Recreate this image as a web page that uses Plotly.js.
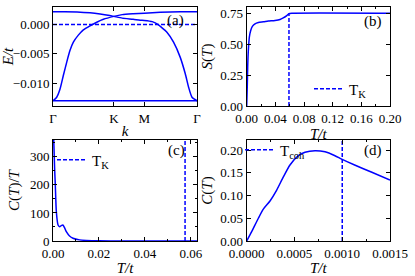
<!DOCTYPE html>
<html>
<head>
<meta charset="utf-8">
<script src="https://cdn.plot.ly/plotly-3.0.1.min.js"></script>
<style>html,body{margin:0;padding:0;background:#fff;}#chart{width:415px;height:276px;}</style>
</head>
<body>
<div id="chart"></div>
<script>
// ---------- Panel (a): band structure ----------
const kTickVals = [0, 1.3333, 2.0, 3.1547];
const kTickText = ['Γ', 'K', 'M', 'Γ'];
const kFlat = [0, 3.1547];
const eFlat = [-0.0130, -0.0130];
const kBandA = [0, 0.081, 0.154, 0.226, 0.301, 0.373, 0.446, 0.555, 0.665, 0.812, 0.959, 1.104, 1.333, 1.515, 1.756, 2.0, 2.349, 2.788, 3.155];
const eBandA = [-0.0130, -0.0124, -0.0110, -0.0087, -0.0064, -0.0044, -0.0030, -0.0018, -0.0009, -0.0002, 0.0004, 0.0009, 0.0014, 0.0017, 0.00185, 0.00195, 0.0021, 0.0022, 0.0022];
const kBandB = [0, 0.263, 0.527, 0.812, 1.032, 1.207, 1.333, 1.515, 1.756, 1.910, 2.0, 2.174, 2.305, 2.349, 2.496, 2.641, 2.788, 2.898, 2.971, 3.045, 3.155];
const eBandB = [0.0022, 0.0022, 0.00215, 0.0020, 0.0018, 0.0016, 0.0014, 0.0011, 0.0009, 0.00075, 0.0007, 0.0005, 0.0000, -0.0003, -0.0013, -0.0030, -0.0056, -0.0084, -0.0107, -0.0124, -0.0130];
const eFermi = [0, 0];

// ---------- Panel (b): entropy ----------
const tS = [0, 0.0009, 0.0014, 0.0023, 0.0037, 0.0056, 0.0079, 0.0116, 0.0163, 0.0233, 0.030, 0.0395, 0.0465, 0.051, 0.056, 0.059, 0.063, 0.2];
const sT = [0, 0.18, 0.32, 0.45, 0.557, 0.61, 0.643, 0.664, 0.675, 0.680, 0.686, 0.691, 0.699, 0.712, 0.731, 0.747, 0.75, 0.75];
const tkB = [0.059, 0.059];
const tkBy = [0, 0.75];

// ---------- Panel (c): C(T)/T ----------
const tC = [0.0003, 0.0004, 0.0007, 0.001, 0.00145, 0.0022, 0.0029, 0.0036, 0.0043, 0.005, 0.0058, 0.0072, 0.0087, 0.0116, 0.0145, 0.02, 0.03, 0.045, 0.063];
const cOverT = [365, 340, 260, 200, 105, 57, 51, 55, 57, 48, 33, 18, 10, 4, 2, 0.5, 0.2, 0.2, 0.2];
const tkC = [0.0575, 0.0575];
const tkCy = [0, 360];

// ---------- Panel (d): C(T) ----------
const tD = [0, 0.000052, 0.000122, 0.000174, 0.000244, 0.000314, 0.000384, 0.000453, 0.000541, 0.00061, 0.000715, 0.00082, 0.000924, 0.000994, 0.00113, 0.00131, 0.0015];
const cT = [0, 0.0205, 0.05, 0.070, 0.088, 0.112, 0.141, 0.167, 0.1875, 0.195, 0.1985, 0.196, 0.1875, 0.180, 0.167, 0.151, 0.134];
const tCoh = [0.0010, 0.0010];
const tCohY = [0, 0.222];

const BLUE = '#0000ff';
const FONT = '"Liberation Serif", "Times New Roman", Times, serif';
const solid = {color: BLUE, width: 1.5, shape: 'spline', smoothing: 0.6};
const dashed = {color: BLUE, width: 1.5, dash: '4px,2px'};

const traces = [
  {x: kFlat, y: eFlat, xaxis: 'x', yaxis: 'y', mode: 'lines', line: {color: BLUE, width: 1.5}, showlegend: false},
  {x: kBandA, y: eBandA, xaxis: 'x', yaxis: 'y', mode: 'lines', line: solid, showlegend: false},
  {x: kBandB, y: eBandB, xaxis: 'x', yaxis: 'y', mode: 'lines', line: solid, showlegend: false},
  {x: kFlat, y: eFermi, xaxis: 'x', yaxis: 'y', mode: 'lines', line: dashed, showlegend: false},

  {x: tS, y: sT, xaxis: 'x2', yaxis: 'y2', mode: 'lines', line: solid, showlegend: false},
  {x: tkB, y: tkBy, xaxis: 'x2', yaxis: 'y2', mode: 'lines', line: dashed, name: 'T<sub>K</sub>', legend: 'legend'},

  {x: tC, y: cOverT, xaxis: 'x3', yaxis: 'y3', mode: 'lines', line: solid, showlegend: false},
  {x: tkC, y: tkCy, xaxis: 'x3', yaxis: 'y3', mode: 'lines', line: dashed, name: 'T<sub>K</sub>', legend: 'legend2'},

  {x: tD, y: cT, xaxis: 'x4', yaxis: 'y4', mode: 'lines', line: solid, showlegend: false},
  {x: tCoh, y: tCohY, xaxis: 'x4', yaxis: 'y4', mode: 'lines', line: dashed, name: 'T<sub>coh</sub>', legend: 'legend3'}
];

function ax(extra) {
  return Object.assign({
    showgrid: false, zeroline: false, showline: true, linecolor: '#000', linewidth: 1,
    mirror: 'allticks', ticks: 'inside', ticklen: 4, tickwidth: 1, tickcolor: '#000',
    tickfont: {family: FONT, size: 13, color: '#000'}
  }, extra);
}
const titleFont = {family: FONT, size: 15, color: '#000'};
const xDomL = [53/415, 197/415], xDomR = [246.7/415, 390/415];
const yDomT = [1 - 106/276, 1 - 7/276], yDomB = [1 - 241/276, 1 - 140/276];
const legFont = {family: FONT, size: 15, color: '#000'};
const labFont = {family: FONT, size: 15, color: '#000'};

const layout = {
  width: 415, height: 276,
  margin: {l: 0, r: 0, t: 0, b: 0},
  paper_bgcolor: '#fff', plot_bgcolor: '#fff',
  font: {family: FONT, size: 13, color: '#000'},
  xaxis: ax({domain: xDomL, anchor: 'y', range: [0, 3.1547], tickmode: 'array', tickvals: kTickVals, ticktext: kTickText,
    title: {text: '<i>k</i>', font: titleFont, standoff: 0}}),
  yaxis: ax({domain: yDomT, anchor: 'x', range: [-0.0139, 0.0030], tickvals: [-0.010, -0.005, 0], tickformat: '.3f',
    title: {text: '<i>E/t</i>', font: titleFont, standoff: 6}}),
  xaxis2: ax({domain: xDomR, anchor: 'y2', range: [0, 0.2], dtick: 0.04, tick0: 0, tickformat: '.2f',
    minor: {dtick: 0.02, ticks: 'inside', ticklen: 2, tickcolor: '#000'},
    title: {text: '<i>T/t</i>', font: titleFont, standoff: 0}}),
  yaxis2: ax({domain: yDomT, anchor: 'x2', range: [0, 0.80], dtick: 0.25, tick0: 0, tickformat: '.2f',
    title: {text: '<i>S</i>(<i>T</i>)', font: titleFont, standoff: 4}}),
  xaxis3: ax({domain: xDomL, anchor: 'y3', range: [0, 0.0627], dtick: 0.02, tick0: 0, tickformat: '.2f',
    minor: {dtick: 0.01, ticks: 'inside', ticklen: 2, tickcolor: '#000'},
    title: {text: '<i>T/t</i>', font: titleFont, standoff: 0}}),
  yaxis3: ax({domain: yDomB, anchor: 'x3', range: [0, 360], dtick: 100, tick0: 0,
    minor: {dtick: 50, ticks: 'inside', ticklen: 2, tickcolor: '#000'},
    title: {text: '<i>C</i>(<i>T</i>)/<i>T</i>', font: titleFont, standoff: 6}}),
  xaxis4: ax({domain: xDomR, anchor: 'y4', range: [0, 0.0015], dtick: 0.0005, tick0: 0, tickformat: '.4f',
    minor: {dtick: 0.00025, ticks: 'inside', ticklen: 2, tickcolor: '#000'},
    title: {text: '<i>T/t</i>', font: titleFont, standoff: 0}}),
  yaxis4: ax({domain: yDomB, anchor: 'x4', range: [0, 0.222], dtick: 0.05, tick0: 0, tickformat: '.2f',
    title: {text: '<i>C</i>(<i>T</i>)', font: titleFont, standoff: 4}}),
  legend: {x: 309/415, y: 1 - 89/276, xanchor: 'left', yanchor: 'middle', bgcolor: 'rgba(0,0,0,0)',
    font: legFont, itemwidth: 30},
  legend2: {x: 52/415, y: 1 - 160/276, xanchor: 'left', yanchor: 'middle', bgcolor: 'rgba(0,0,0,0)',
    font: legFont, itemwidth: 30},
  legend3: {x: 240/415, y: 1 - 150/276, xanchor: 'left', yanchor: 'middle', bgcolor: 'rgba(0,0,0,0)',
    font: legFont, itemwidth: 30},
  annotations: [
    {text: '(a)', xref: 'x domain', yref: 'y domain', x: 0.854, y: 0.86, xanchor: 'center', yanchor: 'middle', showarrow: false, font: labFont},
    {text: '(b)', xref: 'x2 domain', yref: 'y2 domain', x: 0.883, y: 0.85, xanchor: 'center', yanchor: 'middle', showarrow: false, font: labFont},
    {text: '(c)', xref: 'x3 domain', yref: 'y3 domain', x: 0.855, y: 0.90, xanchor: 'center', yanchor: 'middle', showarrow: false, font: labFont},
    {text: '(d)', xref: 'x4 domain', yref: 'y4 domain', x: 0.883, y: 0.90, xanchor: 'center', yanchor: 'middle', showarrow: false, font: labFont}
  ]
};

Plotly.newPlot('chart', traces, layout, {staticPlot: true, displayModeBar: false});
</script>
</body>
</html>
